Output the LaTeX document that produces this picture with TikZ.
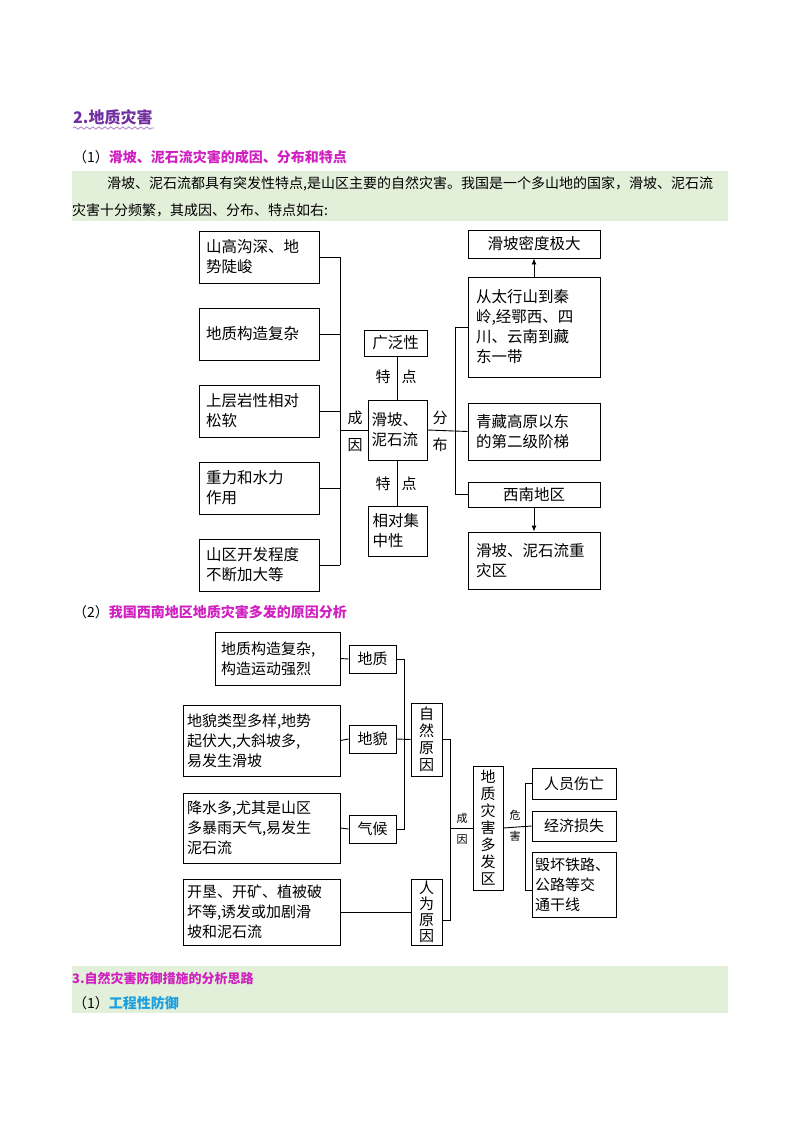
\documentclass[tikz,border=0pt]{standalone}
\usepackage{fontspec}
\setmainfont{Noto Sans CJK SC}
\usetikzlibrary{arrows.meta,decorations.pathmorphing}
\definecolor{band}{HTML}{E2EFD9}
\definecolor{mag}{HTML}{D020C0}
\definecolor{pur}{HTML}{7030A0}
\definecolor{cy}{HTML}{1AA0E0}
\begin{document}
\begin{tikzpicture}[x=1pt,y=-1pt,
 bx/.style={draw,line width=0.9pt,inner sep=0pt,align=left,font=\fontsize{15.5}{20}\selectfont},
 bs/.style={draw,line width=0.9pt,inner sep=0pt,align=left,font=\fontsize{15}{20}\selectfont},
 ln/.style={line width=0.9pt},
 lb/.style={font=\fontsize{15}{18}\selectfont,inner sep=0pt},
 lbs/.style={font=\fontsize{11}{14}\selectfont,inner sep=0pt},
 ar/.style={ln,-{Latex[length=6pt,width=5pt]}}]
\useasboundingbox (0,0) rectangle (800,1132);
% headers
\node[anchor=west,inner sep=0pt,text=pur,font=\fontsize{16}{18}\selectfont\bfseries] (h1) at (73,117) {2.地质灾害};
\draw[pur!60,line width=0.8pt,decorate,decoration={snake,amplitude=1.2pt,segment length=6pt}] (73,128) -- (154,128);
\node[anchor=west,inner sep=0pt,font=\fontsize{14}{16}\selectfont] (h2) at (73,157) {（1）\textcolor{mag}{\bfseries 滑坡、泥石流灾害的成因、分布和特点}};
\fill[band] (72,171) rectangle (728,221);
\node[anchor=west,inner sep=0pt,font=\fontsize{14}{16}\selectfont] (p1) at (107,184) {滑坡、泥石流都具有突发性特点,是山区主要的自然灾害。我国是一个多山地的国家，滑坡、泥石流};
\node[anchor=west,inner sep=0pt,font=\fontsize{14}{16}\selectfont] (p2) at (72,210) {灾害十分频繁，其成因、分布、特点如右:};
% diagram 1 left
\node[bx,minimum width=120,minimum height=52,text width=106] (L1) at (259,257) {山高沟深、地\\势陡峻};
\node[bx,minimum width=120,minimum height=52,text width=106] (L2) at (259,334) {地质构造复杂};
\node[bx,minimum width=120,minimum height=52,text width=106] (L3) at (259,411) {上层岩性相对\\松软};
\node[bx,minimum width=120,minimum height=52,text width=106] (L4) at (259,488) {重力和水力\\作用};
\node[bx,minimum width=120,minimum height=52,text width=106] (L5) at (259,565) {山区开发程度\\不断加大等};
\coordinate (bl1) at (340,257); \coordinate (bl5) at (340,565);
\draw[ln] (bl1) -- (bl5);
\foreach \i/\y in {1/257,2/334,3/411,4/488,5/565}{\draw[ln] (L\i.east) -- (340,\y);}
\node[bx,minimum width=59,minimum height=60,text width=52] (C) at (397.5,430) {滑坡、\\泥石流};
\draw[ln] (340,430) -- (C.west);
\node[lb] (cy1) at (355,418) {成}; \node[lb] (cy2) at (355,445) {因};
\node[bx,minimum width=63,minimum height=26,align=center] (T1) at (395.5,343) {广泛性};
\draw[ln] (T1.south -| C.north) -- (C.north);
\node[lb] (t1a) at (383,377) {特}; \node[lb] (t1b) at (409,377) {点};
\node[bx,minimum width=59,minimum height=50,text width=50] (T2) at (397.5,531) {相对集\\中性};
\draw[ln] (C.south) -- (T2.north);
\node[lb] (t2a) at (383,484) {特}; \node[lb] (t2b) at (409,484) {点};
\node[lb] (f1) at (440,418) {分}; \node[lb] (f2) at (440,445) {布};
\node[bx,minimum width=132,minimum height=28,align=center] (R1) at (534,244) {滑坡密度极大};
\node[bx,minimum width=132,minimum height=100,text width=116] (R2) at (534,327) {从太行山到秦\\岭,经鄂西、四\\川、云南到藏\\东一带};
\node[bx,minimum width=132,minimum height=57,text width=116] (R3) at (534,431.5) {青藏高原以东\\的第二级阶梯};
\node[bx,minimum width=132,minimum height=25,align=center] (R4) at (534,494.5) {西南地区};
\node[bx,minimum width=132,minimum height=57,text width=116] (R5) at (534,560.5) {滑坡、泥石流重\\灾区};
\draw[ln] (C.east) -- (R3.west);
\draw[ln] (R2.west) -| (455,494.5) -- (R4.west);
\draw[ar] (R2.north) -- (R1.south);
\draw[ar] (R4.south) -- (R5.north);
% subtitle 2
\node[anchor=west,inner sep=0pt,font=\fontsize{14}{16}\selectfont] (h3) at (73,612) {（2）\textcolor{mag}{\bfseries 我国西南地区地质灾害多发的原因分析}};
% diagram 2
\node[bs,minimum width=125,minimum height=53,text width=113] (A1) at (277.5,658.5) {地质构造复杂,\\构造运动强烈};
\node[bs,minimum width=157,minimum height=71,text width=149] (A2) at (261.5,740.5) {地貌类型多样,地势\\起伏大,大斜坡多,\\易发生滑坡};
\node[bs,minimum width=157,minimum height=70,text width=149] (A3) at (261.5,828) {降水多,尤其是山区\\多暴雨天气,易发生\\泥石流};
\node[bs,minimum width=157,minimum height=66,text width=149] (A4) at (261.5,912) {开垦、开矿、植被破\\坏等,诱发或加剧滑\\坡和泥石流};
\node[bs,minimum width=47,minimum height=28,align=center] (B1) at (372.5,659) {地质};
\node[bs,minimum width=47,minimum height=28,align=center] (B2) at (372.5,739) {地貌};
\node[bs,minimum width=47,minimum height=28,align=center] (B3) at (372.5,829) {气候};
\foreach \i in {1,2,3}{\draw[ln] (A\i.east) -- (B\i.west);}
\node[bs,minimum width=31,minimum height=73,text width=16,align=center,font=\fontsize{15}{17}\selectfont] (N1) at (426.5,739.5) {自\\然\\原\\因};
\node[bs,minimum width=31,minimum height=66,text width=16,align=center,font=\fontsize{15}{16}\selectfont] (N2) at (426.5,912) {人\\为\\原\\因};
\draw[ln] (B1.east) -| (404,829) -- (B3.east);
\draw[ln] (B2.east) -- (N1.west);
\draw[ln] (A4.east |- N2.west) -- (N2.west);
\node[bs,minimum width=30,minimum height=124,text width=16,align=center,font=\fontsize{15}{17}\selectfont] (D) at (488,828) {地\\质\\灾\\害\\多\\发\\区};
\draw[ln] (N1.east) -| (450,920) -- (442,920);
\draw[ln] (450,828) -- (D.west);
\node[lbs] (cc1) at (462,818) {成}; \node[lbs] (cc2) at (462,840) {因};
\node[lbs] (w1) at (515,815) {危}; \node[lbs] (w2) at (515,836) {害};
\node[bs,minimum width=84,minimum height=31,align=center] (E1) at (574,783.5) {人员伤亡};
\node[bs,minimum width=84,minimum height=30,align=center] (E2) at (574,826) {经济损失};
\node[bs,minimum width=84,minimum height=65,text width=78] (E3) at (574,884.5) {毁坏铁路、\\公路等交\\通干线};
\draw[ln] (D.east) -- (E2.west);
\draw[ln] (E1.west) -| (525,890) -- (532,890);
% bottom band
\fill[band] (72,966) rectangle (728,1013);
\node[anchor=west,inner sep=0pt,text=mag,font=\fontsize{13}{15}\selectfont\bfseries] (h4) at (72,978) {3.自然灾害防御措施的分析思路};
\node[anchor=west,inner sep=0pt,font=\fontsize{14}{16}\selectfont] (h5) at (73,1003) {（1）\textcolor{cy}{\bfseries 工程性防御}};
\end{tikzpicture}
\end{document}
